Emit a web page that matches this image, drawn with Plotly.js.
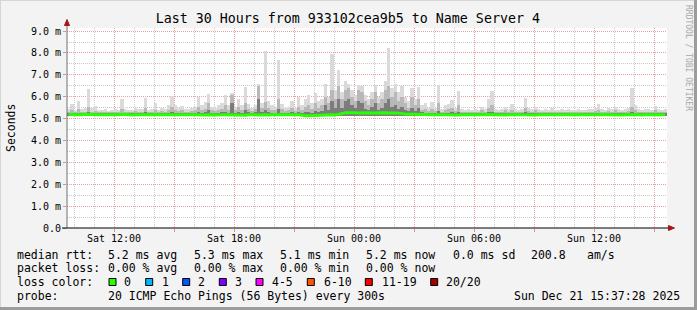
<!DOCTYPE html>
<html><head><meta charset="utf-8">
<script src="https://cdn.plot.ly/plotly-3.0.1.min.js"></script>
<style>html,body{margin:0;padding:0;background:#f3f3f3}</style>
</head><body><div id="chart" style="width:697px;height:310px"></div>
<script>
// ---------- data (10-minute bins, 30 hours) ----------
const startTime = Date.UTC(2025, 11, 20, 9, 39);
const endTime = Date.UTC(2025, 11, 21, 15, 39);
const stepMs = 600000;

const smokeMax = [
 5.45,5.67,5.40,5.80,5.45,5.50,6.35,5.50,5.58,5.40,5.38,5.42,
 5.35,5.40,5.45,5.40,5.88,5.45,5.38,5.40,5.50,5.42,5.45,5.95,
 5.40,5.45,5.72,5.40,5.50,5.45,5.60,6.05,5.62,5.50,5.58,5.45,
 5.45,5.50,5.55,6.00,5.60,5.74,6.14,5.55,5.50,5.60,5.70,6.08,
 5.60,6.18,5.55,5.88,5.60,6.43,5.65,5.50,5.60,6.57,5.70,8.09,
 5.80,5.60,5.55,7.68,5.65,5.50,5.55,5.80,5.50,6.00,5.60,5.90,
 6.10,5.70,6.15,5.80,5.90,6.60,6.00,7.93,6.30,7.20,6.20,6.70,
 6.60,6.30,6.10,6.54,6.50,6.10,5.90,6.20,6.54,6.00,6.23,6.70,
 8.24,6.40,6.60,6.20,6.50,6.00,5.80,6.38,5.90,6.45,5.60,5.70,
 5.50,5.77,5.50,6.53,5.45,5.62,5.65,5.85,5.50,6.27,5.45,5.40,
 5.45,5.40,5.42,5.40,5.55,5.45,5.90,6.27,5.45,5.40,5.45,5.55,
 5.45,5.67,5.45,5.40,5.45,5.96,5.50,5.45,5.55,5.45,5.40,5.42,
 5.40,5.47,5.40,5.38,5.45,5.40,5.42,5.38,5.40,5.45,5.40,5.38,
 5.42,5.45,5.50,5.67,5.45,5.40,5.50,5.42,5.55,5.45,5.40,5.45,
 5.50,6.40,5.60,5.45,5.40,5.42,5.45,5.40,5.58,5.45,5.40,5.42
];
const smokeMid = [
 5.30,5.40,5.30,5.45,5.30,5.32,5.55,5.32,5.35,5.30,5.28,5.30,
 5.28,5.30,5.32,5.30,5.45,5.30,5.28,5.30,5.35,5.30,5.32,5.50,
 5.30,5.32,5.40,5.30,5.35,5.32,5.40,5.55,5.40,5.35,5.38,5.32,
 5.32,5.35,5.38,5.55,5.40,5.45,5.70,5.40,5.35,5.40,5.45,5.60,
 5.40,6.10,5.40,5.55,5.40,5.70,5.45,5.35,5.45,6.50,5.50,5.75,
 5.50,5.40,5.40,5.90,5.45,5.35,5.40,5.50,5.35,5.55,5.40,5.55,
 5.60,5.45,5.70,5.50,5.60,6.00,5.70,6.30,5.90,6.50,5.90,6.30,
 6.40,6.00,5.80,6.30,6.20,5.80,5.60,5.90,6.20,5.70,5.90,6.30,
 6.50,6.00,6.20,5.80,6.00,5.70,5.50,6.00,5.60,5.90,5.40,5.45,
 5.35,5.45,5.35,5.70,5.32,5.40,5.42,5.50,5.35,5.60,5.32,5.30,
 5.32,5.30,5.30,5.30,5.38,5.32,5.50,5.60,5.32,5.30,5.32,5.38,
 5.32,5.40,5.32,5.30,5.32,5.50,5.35,5.32,5.38,5.32,5.30,5.30,
 5.30,5.32,5.30,5.28,5.32,5.30,5.30,5.28,5.30,5.32,5.30,5.28,
 5.30,5.32,5.35,5.40,5.32,5.30,5.35,5.30,5.38,5.32,5.30,5.32,
 5.35,5.55,5.40,5.32,5.30,5.30,5.32,5.30,5.38,5.32,5.30,5.30
];
const smokeDark = [
 5.24,5.26,5.24,5.27,5.24,5.24,5.30,5.24,5.25,5.24,5.24,5.24,
 5.24,5.24,5.24,5.24,5.26,5.24,5.24,5.24,5.25,5.24,5.24,5.28,
 5.24,5.24,5.26,5.24,5.25,5.24,5.26,5.30,5.26,5.24,5.25,5.24,
 5.24,5.25,5.25,5.30,5.26,5.28,5.40,5.26,5.25,5.26,5.28,5.32,
 5.26,5.70,5.26,5.30,5.26,5.40,5.28,5.25,5.28,5.90,5.30,5.40,
 5.30,5.26,5.26,5.45,5.27,5.25,5.26,5.30,5.25,5.30,5.26,5.30,
 5.30,5.25,5.35,5.30,5.35,5.60,5.40,5.80,5.50,5.90,5.50,5.80,
 5.90,5.60,5.50,5.80,5.70,5.45,5.40,5.55,5.70,5.40,5.50,5.70,
 5.90,5.55,5.60,5.45,5.55,5.40,5.35,5.50,5.35,5.50,5.28,5.26,
 5.24,5.26,5.24,5.35,5.24,5.25,5.26,5.28,5.24,5.32,5.24,5.24,
 5.24,5.24,5.24,5.24,5.25,5.24,5.28,5.32,5.24,5.24,5.24,5.25,
 5.24,5.26,5.24,5.24,5.24,5.28,5.25,5.24,5.25,5.24,5.24,5.24,
 5.24,5.24,5.24,5.24,5.24,5.24,5.24,5.24,5.24,5.24,5.24,5.24,
 5.24,5.24,5.25,5.26,5.24,5.24,5.25,5.24,5.25,5.24,5.24,5.24,
 5.25,5.32,5.26,5.24,5.24,5.24,5.24,5.24,5.25,5.24,5.24,5.24
];
const medianRtt = [
 5.18,5.20,5.17,5.16,5.18,5.20,5.19,5.17,5.16,5.17,5.18,5.18,
 5.19,5.17,5.16,5.18,5.20,5.18,5.17,5.16,5.18,5.19,5.18,5.17,
 5.16,5.18,5.19,5.20,5.18,5.17,5.16,5.15,5.17,5.18,5.19,5.18,
 5.17,5.18,5.19,5.17,5.16,5.17,5.18,5.17,5.16,5.15,5.17,5.18,
 5.17,5.16,5.18,5.17,5.16,5.15,5.17,5.18,5.17,5.16,5.18,5.17,
 5.16,5.18,5.19,5.17,5.16,5.17,5.18,5.16,5.17,5.18,5.14,5.13,
 5.13,5.14,5.15,5.14,5.16,5.15,5.16,5.17,5.16,5.20,5.26,5.27,
 5.27,5.28,5.27,5.26,5.27,5.28,5.27,5.26,5.27,5.28,5.26,5.27,
 5.26,5.27,5.26,5.25,5.22,5.21,5.20,5.21,5.20,5.19,5.20,5.19,
 5.17,5.18,5.16,5.17,5.18,5.17,5.16,5.18,5.17,5.16,5.17,5.18,
 5.19,5.18,5.17,5.16,5.18,5.19,5.18,5.17,5.16,5.18,5.17,5.16,
 5.17,5.18,5.19,5.18,5.17,5.16,5.18,5.17,5.16,5.18,5.19,5.18,
 5.17,5.16,5.17,5.18,5.17,5.16,5.18,5.19,5.18,5.17,5.16,5.17,
 5.18,5.17,5.16,5.18,5.19,5.18,5.17,5.16,5.18,5.17,5.16,5.18,
 5.17,5.18,5.19,5.17,5.16,5.17,5.18,5.19,5.18,5.17,5.16,5.18
];
const smokeFloor = 5.11;

const xTickVals = ['2025-12-20 12:00','2025-12-20 15:00','2025-12-20 18:00','2025-12-20 21:00',
  '2025-12-21 00:00','2025-12-21 03:00','2025-12-21 06:00','2025-12-21 09:00',
  '2025-12-21 12:00','2025-12-21 15:00'];
const xTickText = ['Sat 12:00','','Sat 18:00','','Sun 00:00','','Sun 06:00','','Sun 12:00',''];
const yTickVals = [0,1,2,3,4,5,6,7,8,9];
const yTickText = ['0.0','1.0 m','2.0 m','3.0 m','4.0 m','5.0 m','6.0 m','7.0 m','8.0 m','9.0 m'];

const titleText = 'Last 30 Hours from 933102cea9b5 to Name Server 4';
const rttLabel = 'median rtt:';
const rttStats = ['5.2 ms avg','5.3 ms max','5.1 ms min','5.2 ms now','0.0 ms sd','200.8','am/s'];
const lossLabel = 'packet loss:';
const lossStats = ['0.00 % avg','0.00 % max','0.00 % min','0.00 % now'];
const colorLabel = 'loss color:';
const lossLabels = ['0','1','2','3','4-5','6-10','11-19','20/20'];
const lossColors = ['#26ff00','#00b8ff','#0059ff','#7e00ff','#ff00ff','#ff5500','#ff0000','#a10000'];
const probeLabel = 'probe:';
const probeText = '20 ICMP Echo Pings (56 Bytes) every 300s';
const stampText = 'Sun Dec 21 15:37:28 2025';
const creditText = 'RRDTOOL / TOBI OETIKER';

// ---------- drawing ----------
const FONT = 'DejaVu Sans Mono, monospace';
const L = 67, R = 667, T = 28, B = 228;
const px = x => (x - L) / (R - L);
const py = y => (B - y) / (B - T);

const xs = smokeMax.map((_, i) => startTime + (i + 0.5) * stepMs);
function smokeTrace(arr, color) {
  return { type: 'bar', x: xs, y: arr.map(v => v - smokeFloor), base: smokeFloor,
    width: stepMs, marker: { color: color, line: { width: 0 } }, hoverinfo: 'skip' };
}
const traces = [
  smokeTrace(smokeMax, '#dadada'),
  smokeTrace(smokeMid, '#b8b8b8'),
  smokeTrace(smokeDark, '#7c7c7c'),
  { type: 'scatter', mode: 'lines', x: xs, y: medianRtt,
    line: { color: '#26ff00', width: 3 }, hoverinfo: 'skip' }
];

const ann = [];
function txt(text, x, y, opts) {
  ann.push(Object.assign({ text: text, xref: 'paper', yref: 'paper', x: px(x - 1), y: py(y),
    xanchor: 'left', yanchor: 'middle', showarrow: false,
    font: { family: FONT, size: 11.5, color: '#000' } }, opts || {}));
}
const colX = [107, 193, 279, 365, 451.7, 530, 586];
txt(rttLabel, 16, 255);
rttStats.forEach((s, i) => txt(s, colX[i], 255));
txt(lossLabel, 16, 268.3);
lossStats.forEach((s, i) => txt(s, colX[i], 268.3));
txt(colorLabel, 16, 282.3);
const boxX = [109, 145.7, 182.7, 219.3, 256, 307.3, 365.3, 430.7];
const labX = [123.3, 160.7, 197.3, 234.3, 270.7, 322.7, 380.7, 445];
const shapes = [];
lossLabels.forEach((s, i) => {
  txt(s, labX[i], 282.3);
  shapes.push({ type: 'rect', xref: 'paper', yref: 'paper', x0: px(boxX[i]), x1: px(boxX[i] + 7),
    y0: py(285.5), y1: py(278.5), fillcolor: lossColors[i], line: { color: '#000', width: 1 } });
});
txt(probeLabel, 16, 295.7);
txt(probeText, 107, 295.7);
txt(stampText, 513, 295.7);
ann.push({ text: 'Seconds', xref: 'paper', yref: 'paper', x: px(11), y: py(128),
  xanchor: 'center', yanchor: 'middle', textangle: -90, showarrow: false,
  font: { family: FONT, size: 11.5, color: '#000' } });
ann.push({ text: creditText, xref: 'paper', yref: 'paper', x: px(688.5), y: py(57.5),
  xanchor: 'center', yanchor: 'middle', textangle: 90, showarrow: false,
  font: { family: FONT, size: 8, color: '#a8a8a8' } });

// frame and axes
shapes.push({ type: 'line', xref: 'paper', yref: 'paper', x0: px(0), x1: px(697), y0: py(0.5), y1: py(0.5), line: { color: '#d6d6d6', width: 1 } });
shapes.push({ type: 'line', xref: 'paper', yref: 'paper', x0: px(0.5), x1: px(0.5), y0: py(0), y1: py(310), line: { color: '#d6d6d6', width: 1 } });
shapes.push({ type: 'line', xref: 'paper', yref: 'paper', x0: px(0), x1: px(697), y0: py(308.5), y1: py(308.5), line: { color: '#9c9c9c', width: 3 } });
shapes.push({ type: 'line', xref: 'paper', yref: 'paper', x0: px(695.5), x1: px(695.5), y0: py(0), y1: py(310), line: { color: '#9c9c9c', width: 3 } });
shapes.push({ type: 'line', xref: 'paper', yref: 'paper', x0: px(67), x1: px(67), y0: py(228), y1: py(23), line: { color: '#707070', width: 1 } });
shapes.push({ type: 'line', xref: 'paper', yref: 'paper', x0: px(62), x1: px(670), y0: py(228), y1: py(228), line: { color: '#000', width: 1 } });
shapes.push({ type: 'path', xref: 'paper', yref: 'paper',
  path: 'M ' + px(64.5) + ',' + py(25.5) + ' L ' + px(67) + ',' + py(19.5) + ' L ' + px(69.5) + ',' + py(25.5) + ' Z',
  fillcolor: '#a01818', line: { color: '#a01818', width: 1 } });
shapes.push({ type: 'path', xref: 'paper', yref: 'paper',
  path: 'M ' + px(668.5) + ',' + py(225.5) + ' L ' + px(674.5) + ',' + py(228) + ' L ' + px(668.5) + ',' + py(230.5) + ' Z',
  fillcolor: '#a01818', line: { color: '#a01818', width: 1 } });

const layout = {
  width: 697, height: 310,
  margin: { l: L, r: 697 - R, t: T, b: 310 - B, pad: 0 },
  paper_bgcolor: '#f3f3f3', plot_bgcolor: '#ffffff',
  showlegend: false, barmode: 'overlay', bargap: 0,
  title: { text: titleText, xref: 'container', x: 0.499, xanchor: 'center',
    yref: 'container', y: 1 - 18.5 / 310, yanchor: 'middle',
    font: { family: FONT, size: 13.3, color: '#000' } },
  xaxis: { type: 'date', range: [startTime, endTime], tickmode: 'array',
    tickvals: xTickVals, ticktext: xTickText,
    showgrid: true, gridcolor: '#eaa0a0', griddash: '1px,1px', gridwidth: 1,
    ticks: 'outside', ticklen: 3, tickcolor: '#e09090', ticklabelstandoff: -2,
    tickfont: { family: FONT, size: 10, color: '#000' },
    zeroline: false, showline: false, fixedrange: true,
    minor: { tickmode: 'linear', tick0: '2025-12-20 00:00', dtick: 3600000,
      showgrid: true, gridcolor: '#c8c8c8', griddash: '1px,1px', gridwidth: 1 } },
  yaxis: { range: [0, 9.14], tickmode: 'array', tickvals: yTickVals, ticktext: yTickText,
    showgrid: true, gridcolor: '#eaa0a0', griddash: '1px,1px', gridwidth: 1,
    ticks: 'outside', ticklen: 3, tickcolor: '#e09090',
    tickfont: { family: FONT, size: 10, color: '#000' },
    zeroline: false, showline: false, fixedrange: true,
    minor: { tickmode: 'linear', tick0: 0, dtick: 0.5,
      showgrid: true, gridcolor: '#c8c8c8', griddash: '1px,1px', gridwidth: 1 } },
  annotations: ann, shapes: shapes
};
Plotly.newPlot('chart', traces, layout, { staticPlot: true, displayModeBar: false });
</script></body></html>
